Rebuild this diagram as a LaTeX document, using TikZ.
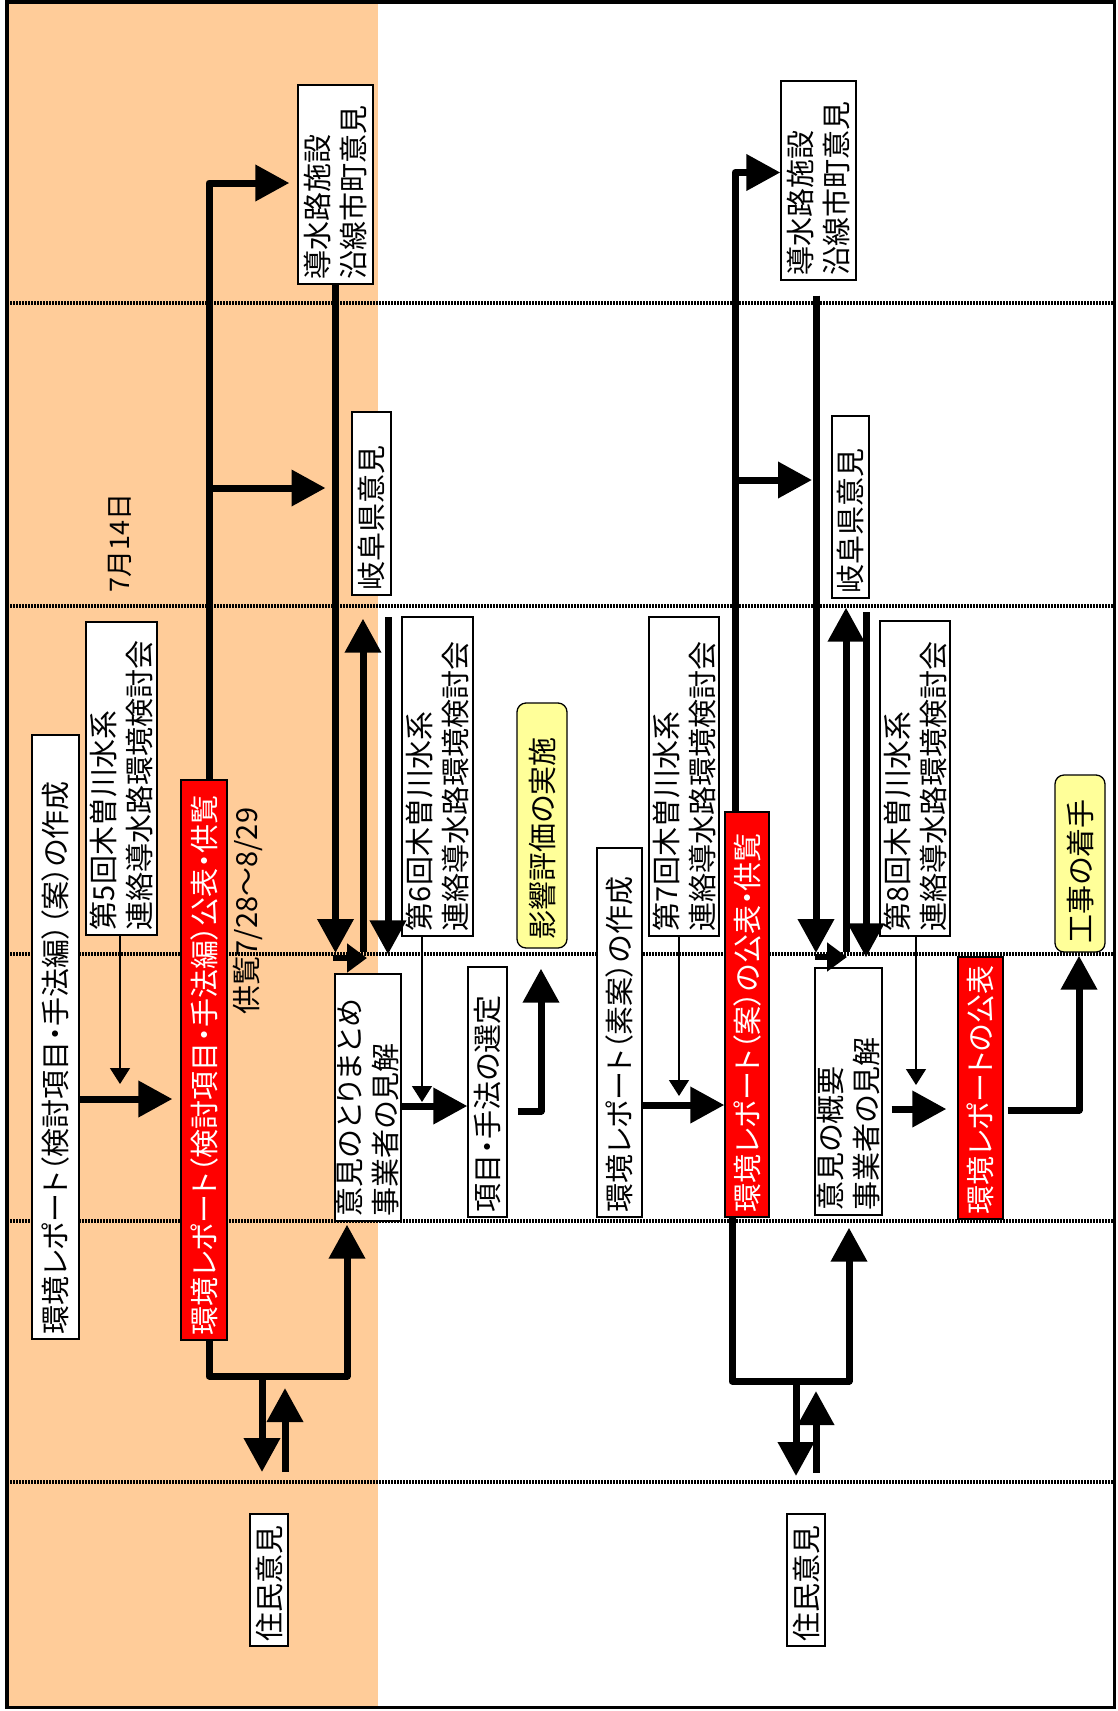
\documentclass[tikz,border=0pt]{standalone}
\usepackage{fontspec}
\newfontfamily\jp[RawFeature=+palt]{Noto Sans CJK JP}
\usetikzlibrary{arrows.meta}
\definecolor{peach}{HTML}{FFCC99}
\definecolor{lyel}{HTML}{FFFF99}
\begin{document}
\begin{tikzpicture}[x=1pt,y=-1pt,
  bx/.style={draw=black, line width=1.3pt, fill=white, rotate=90, inner xsep=5pt, inner ysep=0pt, align=left, font=\jp\fontsize{29}{36}\selectfont},
  rbx/.style={bx, fill=red, text=white},
  ybx/.style={bx, fill=lyel, rounded corners=9pt, inner xsep=9pt},
  lbl/.style={rotate=90, inner sep=0pt, font=\jp\fontsize{27}{32}\selectfont},
  thk/.style={line width=7pt, line join=round, -{Triangle[length=34pt,width=35pt]}},
  thn/.style={line width=1.5pt, -{Triangle[length=16pt,width=20pt]}},
  sml/.style={line width=5.5pt, -{Triangle[length=20pt,width=28pt]}},
  dotln/.style={line width=3.5pt, dash pattern=on 2pt off 1pt}]
\useasboundingbox (0,0) rectangle (1117,1711);
\fill[peach] (7,2) rectangle (378,1708);
\foreach \yy in {303,606,954,1221,1482} \draw[dotln] (7,\yy) -- (1115,\yy);

% boxes
\node[bx, text width=594pt, minimum height=47pt] (b1) at (55.5,1037) {環境レポート（検討項目・手法編）（案）の作成};
\node[bx, text width=303pt, minimum height=71pt] (b2) at (121.5,778.5) {第5回木曽川水系\\連絡導水路環境検討会};
\node[rbx, text width=550pt, minimum height=46pt] (r4) at (204,1060) {環境レポート（検討項目・手法編）公表・供覧};
\node[lbl] (d1) at (120,543) {7月14日};
\node[lbl, font=\jp\fontsize{29}{32}\selectfont] (d2) at (248,911) {供覧7/28～8/29};
\node[bx, text width=189pt, minimum height=75pt] (b6) at (335.5,184.5) {導水路施設\\沿線市町意見};
\node[bx, text width=173pt, minimum height=39pt] (b7) at (371.5,503.5) {岐阜県意見};
\node[bx, text width=237pt, minimum height=66pt] (b8) at (368,1097.5) {意見のとりまとめ\\事業者の見解};
\node[bx, text width=309pt, minimum height=71pt] (b9) at (437.5,776.5) {第6回木曽川水系\\連絡導水路環境検討会};
\node[bx, text width=240pt, minimum height=39pt] (b10) at (487.5,1092) {項目・手法の選定};
\node[ybx, text width=227pt, minimum height=50pt] (y11) at (542,825.5) {影響評価の実施};
\node[bx, text width=359pt, minimum height=45pt] (b12) at (619.5,1032.5) {環境レポート（素案）の作成};
\node[bx, text width=309pt, minimum height=70pt] (b13) at (684,776.5) {第7回木曽川水系\\連絡導水路環境検討会};
\node[rbx, text width=395pt, minimum height=44pt] (r14) at (747,1014.5) {環境レポート（案）の公表・供覧};
\node[bx, text width=189pt, minimum height=75pt] (b15) at (818.5,180.5) {導水路施設\\沿線市町意見};
\node[bx, text width=172pt, minimum height=37pt] (b16) at (850.5,507) {岐阜県意見};
\node[bx, text width=237pt, minimum height=67pt] (b17) at (848.5,1091.5) {意見の概要\\事業者の見解};
\node[bx, text width=305pt, minimum height=70pt] (b18) at (915,778.5) {第8回木曽川水系\\連絡導水路環境検討会};
\node[ybx, text width=159pt, minimum height=50pt] (y19) at (1080,863.5) {工事の着手};
\node[rbx, text width=252pt, minimum height=45pt] (r20) at (980.5,1088) {環境レポートの公表};
\node[bx, text width=122pt, minimum height=38pt] (z21) at (269,1580) {住民意見};
\node[bx, text width=122pt, minimum height=38pt] (z22) at (806,1580) {住民意見};

% junction coordinates
\coordinate (j1) at (209,488);
\coordinate (j2) at (209,1376);
\coordinate (j3) at (262,1376);
\coordinate (u1) at (285,1472);
\coordinate (a6) at (363,952);
\coordinate (d7) at (388,617);
\coordinate (s8) at (333,958);
\coordinate (s8e) at (367,958);
\coordinate (j4) at (735,480);
\coordinate (j5) at (732,1381);
\coordinate (j6) at (796,1381);
\coordinate (u2) at (816,1473);
\coordinate (a16) at (846,952);
\coordinate (d17) at (866,612);
\coordinate (s18) at (815,957);
\coordinate (s18e) at (847,957);

% left connectors
\draw[thk, shorten >=8pt] (b1.south |- 0,1099) -- (r4.north |- 0,1099);
\draw[thn] ([xshift=-1.5pt]b2.west) -- ([xshift=-1.5pt]b2.west |- 0,1084);
\draw[thk, shorten >=8pt] ([xshift=5pt]r4.east) |- ([yshift=1.5pt]b6.north);
\draw[thk, shorten >=10pt] (j1) -- (j1 -| b6.center);
\draw[thk] (b6.west) -- (b6.west |- 0,953);
\draw[thk, shorten >=23pt] (a6) -- (a6 |- b7.west);
\draw[thk, shorten >=19pt] (d7) -- (d7 |- b8.east);
\draw[sml] (s8) -- (s8e);
\draw[thk, shorten >=3pt] ([xshift=5pt]r4.west) -- (j2) -| ([xshift=-21pt]b8.west);
\draw[thk] (j3) -- (j3 |- u1);
\draw[thk] (u1) -- ++(0,-84);
\draw[thn] ([xshift=-15.5pt]b9.west) -- ([xshift=-15.5pt]b9.west |- 0,1102);
\draw[thk] (b8.south |- 0,1106) -- (b10.north |- 0,1106);
\draw[thk, shorten <=10pt, shorten >=20pt] (b10.south |- 0,1111) -| ([xshift=-1pt]y11.west);

% right connectors
\draw[thk] (b12.south |- 0,1105) -- (r14.north |- 0,1105);
\draw[thn] ([xshift=-5pt]b13.west) -- ([xshift=-5pt]b13.west |- 0,1096);
\draw[thk] ([xshift=-12pt]r14.east) |- ([yshift=8pt]b15.north);
\draw[thk, shorten >=6.5pt] (j4) -- (j4 -| b15.center);
\draw[thk, shorten <=15pt] ([xshift=-2.5pt]b15.west) -- ([xshift=-2.5pt]b15.west |- 0,953);
\draw[thk, shorten >=9pt] (a16) -- (a16 |- b16.west);
\draw[thk, shorten >=10pt] (d17) -- (d17 |- b17.east);
\draw[sml] (s18) -- (s18e);
\draw[thk, shorten >=12pt] ([xshift=-15pt]r14.west) -- (j5) -| ([xshift=0.5pt]b17.west);
\draw[thk] (j6) -- (j6 |- 0,1476);
\draw[thk] (u2) -- ++(0,-82);
\draw[thn] ([xshift=1pt]b18.west) -- ([xshift=1pt]b18.west |- 0,1085);
\draw[thk, shorten <=9pt, shorten >=11pt] (b17.south |- 0,1109) -- (r20.north |- 0,1109);
\draw[thk, shorten <=4pt, shorten >=3pt] (r20.south |- 0,1110) -| ([xshift=-1pt]y19.west);

\draw[line width=3.5pt] (7,2) rectangle (1114.5,1707.5);
\end{tikzpicture}
\end{document}
